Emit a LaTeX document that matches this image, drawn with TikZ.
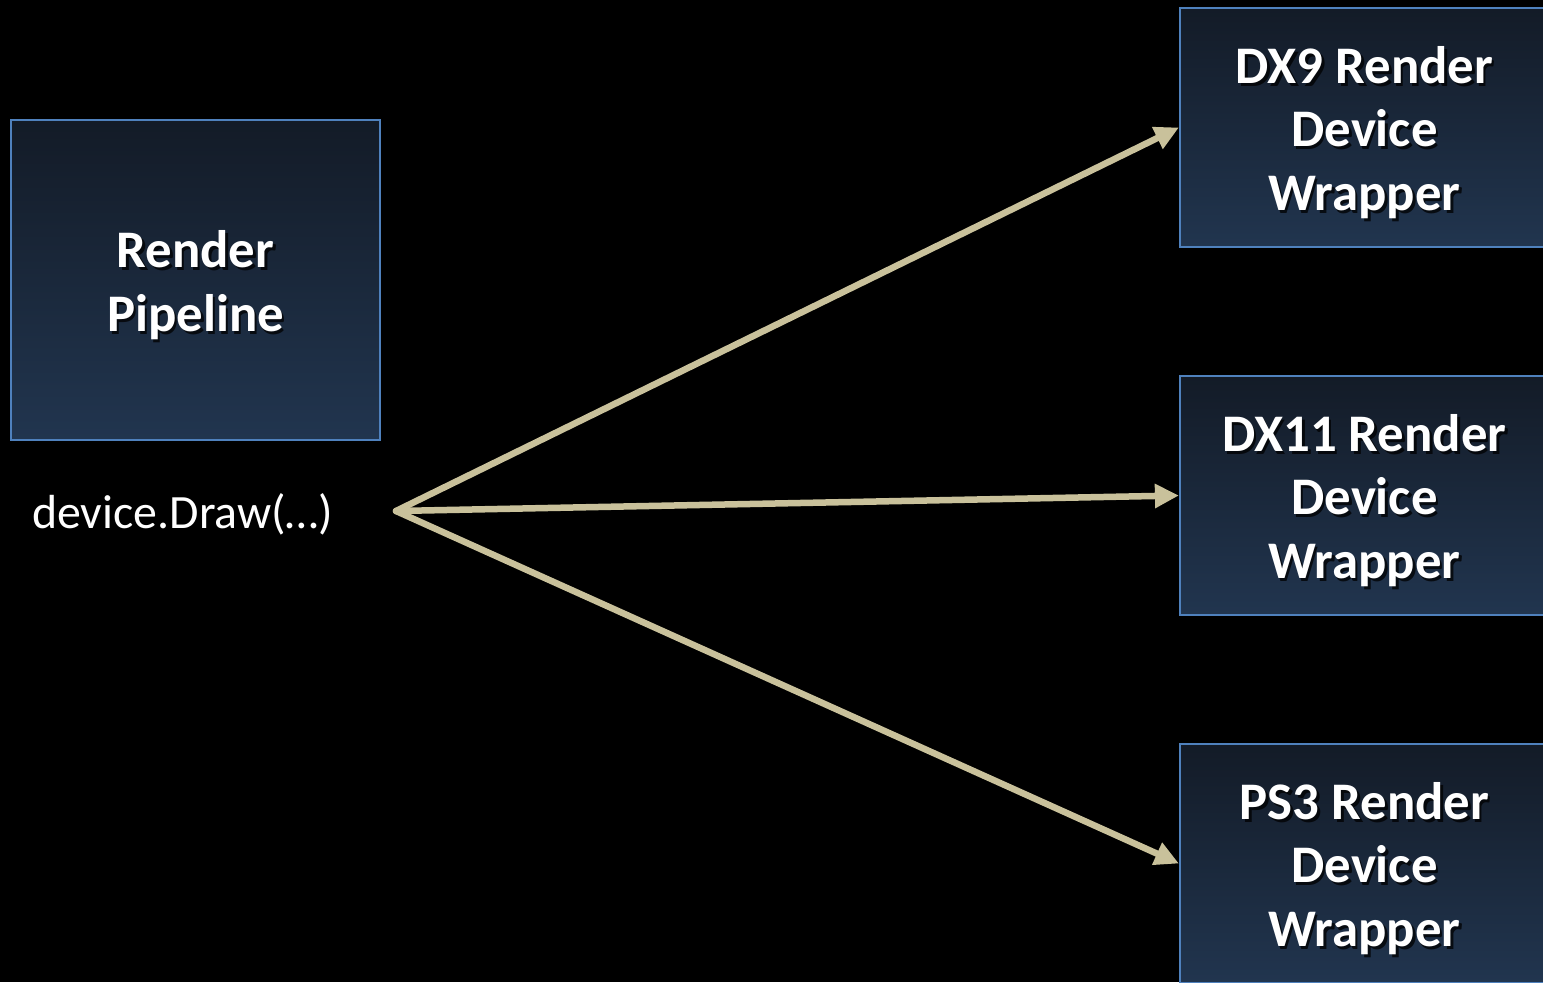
\documentclass[tikz,border=0pt]{standalone}
\usepackage{fontspec}
\setmainfont{Carlito}
\usetikzlibrary{arrows.meta,calc}
\definecolor{boxtop}{HTML}{131B27}
\definecolor{boxbot}{HTML}{21354F}
\definecolor{boxedge}{HTML}{4F81BD}
\definecolor{arrowtan}{HTML}{C9C19B}
\tikzset{
  devbox/.style={draw=boxedge, line width=2.2bp, top color=boxtop, bottom color=boxbot,
    minimum width=369bp, inner sep=0pt},
  boxtext/.style={text=white, font=\fontsize{53}{64}\selectfont\bfseries, align=center},
  boxshadow/.style={text=black, text opacity=0.75, font=\fontsize{53}{64}\selectfont\bfseries, align=center},
  call/.style={line width=6.5bp, draw=arrowtan, line cap=round, line join=round,
    -{Triangle[length=24bp,width=23bp]}},
}
\begin{document}
\begin{tikzpicture}[x=1bp,y=-1bp]
  \fill[black] (0,0) rectangle (1543,982);
  \useasboundingbox (0,0) rectangle (1543,982);
  \clip (0,0) rectangle (1543,982);

  % the pipeline box
  \node[devbox, minimum height=320bp] (pipe) at (195.5,280) {};
  \node[boxshadow] at ($(pipe.center)+(2.5,8)$) {Render\\Pipeline};
  \node[boxtext] (pipetxt) at ($(pipe.center)+(0,5)$) {Render\\Pipeline};

  % the three device wrappers
  \node[devbox, minimum height=239bp] (dx9) at (1364.5,127.5) {};
  \node[devbox, minimum height=239bp] (dx11) at (1364.5,495.5) {};
  \node[devbox, minimum height=239bp] (ps3) at (1364.5,863.5) {};
  \foreach \b/\t in {dx9/DX9 Render, dx11/DX11 Render, ps3/PS3 Render}{
    \node[boxshadow] at ($(\b.center)+(2.5,8)$) {\t\\Device\\Wrapper};
    \node[boxtext] at ($(\b.center)+(0,5)$) {\t\\Device\\Wrapper};
  }

  % the call site
  \node[text=white, font=\fontsize{48}{56}\selectfont, anchor=base west, inner sep=0pt] (draw) at (32,528) {device.Draw(\ldots)};
  \coordinate (src) at (396,511);

  \draw[call] (src) -- (dx9.west);
  \draw[call] (src) -- (dx11.west);
  \draw[call] (src) -- (ps3.west);
\end{tikzpicture}
\end{document}
